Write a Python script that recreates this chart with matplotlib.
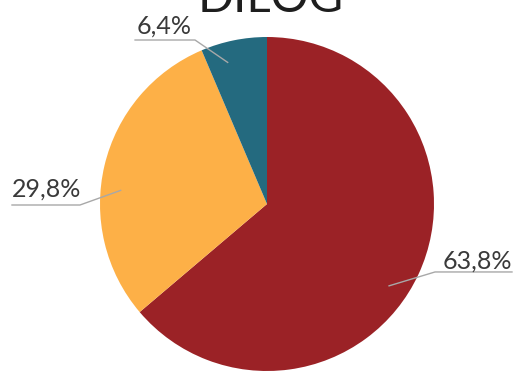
import numpy as np
import matplotlib.pyplot as plt

title = 'DILOG'
shares = [63.8, 29.8, 6.4]
labels = ['63,8%', '29,8%', '6,4%']
colors = ['#9b2226', '#fdb047', '#246a7f']

# elbow of each leader line, end of the horizontal stroke, text anchor
elbows = [(1.006, -0.407), (-1.12, -0.006), (-0.431, 0.982)]
line_ends = [1.467, -1.527, -0.790]
text_pos = [(1.054, -0.386), (-1.527, 0.045), (-0.778, 1.022)]
# leader lines start a little off the slice middle
angle_shift = [-9, 8, 4]

plt.rcParams['font.family'] = ['Lato', 'DejaVu Sans']

fig = plt.figure(figsize=(5.15, 3.72), dpi=100)
ax = fig.add_axes([0, 0, 1, 1])
wedges, _ = ax.pie(shares, colors=colors, startangle=90, counterclock=False,
                   radius=1.0, center=(0, 0))
ax.set_xlim(-267 / 167, (515 - 267) / 167)
ax.set_ylim((204 - 372) / 167, 204 / 167)
ax.set_aspect('auto')
ax.axis('off')

for w, lab, (ex, ey), lx, (tx, ty), sh in zip(wedges, labels, elbows, line_ends,
                                             text_pos, angle_shift):
    mid = np.deg2rad((w.theta1 + w.theta2) / 2 + sh)
    px, py = 0.88 * np.cos(mid), 0.88 * np.sin(mid)
    ax.plot([px, ex, lx], [py, ey, ey], color='#a8a8a8', lw=1.0)
    ax.text(tx, ty, lab, fontsize=18, fontweight='normal', color='#3a3a3a',
            ha='left', va='baseline')

ax.text(0.02, 1.15, title, fontsize=34, fontweight='normal', color='#1e1e1e',
        ha='center', va='baseline')

fig.savefig('out.png', dpi=100)
